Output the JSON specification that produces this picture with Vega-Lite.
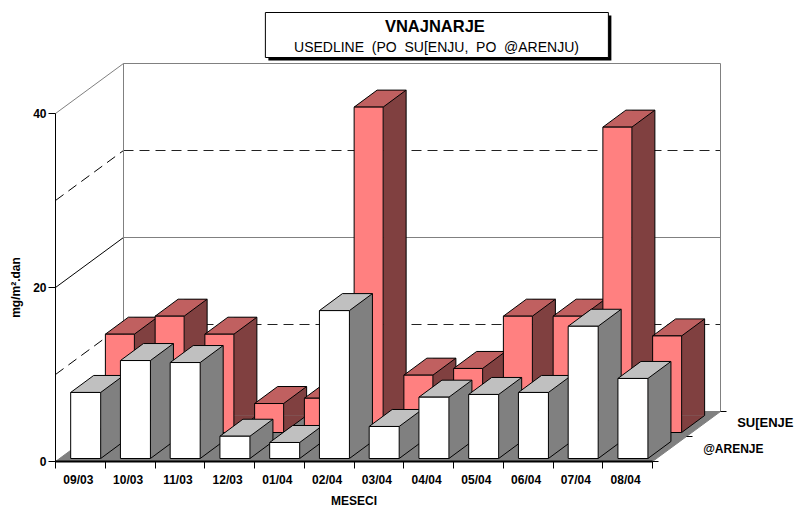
{"$schema":"https://vega.github.io/schema/vega-lite/v6.json","autosize":{"type":"none"},"width":597,"height":348,"padding":{"left":55,"top":113,"right":146,"bottom":46},"background":"white",
"config":{"view":{"stroke":null},"font":"Liberation Sans"},
"data":{"values":[
{"month":"09/03","series":"SU[ENJE","value":11.3},{"month":"10/03","series":"SU[ENJE","value":13.37},{"month":"11/03","series":"SU[ENJE","value":11.3},{"month":"12/03","series":"SU[ENJE","value":3.33},{"month":"01/04","series":"SU[ENJE","value":3.94},{"month":"02/04","series":"SU[ENJE","value":37.4},{"month":"03/04","series":"SU[ENJE","value":6.59},{"month":"04/04","series":"SU[ENJE","value":7.36},{"month":"05/04","series":"SU[ENJE","value":13.37},{"month":"06/04","series":"SU[ENJE","value":13.37},{"month":"07/04","series":"SU[ENJE","value":35.1},{"month":"08/04","series":"SU[ENJE","value":11.1},
{"month":"09/03","series":"@ARENJE","value":7.59},{"month":"10/03","series":"@ARENJE","value":11.26},{"month":"11/03","series":"@ARENJE","value":11.03},{"month":"12/03","series":"@ARENJE","value":2.56},{"month":"01/04","series":"@ARENJE","value":1.84},{"month":"02/04","series":"@ARENJE","value":17.0},{"month":"03/04","series":"@ARENJE","value":3.68},{"month":"04/04","series":"@ARENJE","value":7.05},{"month":"05/04","series":"@ARENJE","value":7.36},{"month":"06/04","series":"@ARENJE","value":7.59},{"month":"07/04","series":"@ARENJE","value":15.2},{"month":"08/04","series":"@ARENJE","value":9.2}
]},
"encoding":{
"x":{"field":"month","type":"nominal","scale":{"type":"band","domain":["09/03","10/03","11/03","12/03","01/04","02/04","03/04","04/04","05/04","06/04","07/04","08/04"],"paddingInner":0,"paddingOuter":0},"axis":{"title":"MESECI","titleFont":"Liberation Sans","titleFontSize":12,"titleFontWeight":"bold","titleColor":"#000","titlePadding":10,"labelAngle":0,"labelFont":"Liberation Sans","labelFontSize":12,"labelFontWeight":"bold","labelColor":"#000","labelOffset":-2,"labelPadding":6,"tickBand":"extent","tickSize":7,"tickColor":"#000","domainColor":"#000","domainWidth":2,"zindex":1}},
"y":{"field":"value","type":"quantitative","stack":null,"scale":{"domain":[0,40],"nice":false},"axis":{"title":"mg/m².dan","values":[0,20,40],"grid":false,"titleFont":"Liberation Sans","titleFontSize":12,"titleFontWeight":"bold","titleColor":"#000","titlePadding":10,"labelFont":"Liberation Sans","labelFontSize":12,"labelFontWeight":"bold","labelColor":"#000","labelPadding":2,"tickSize":7,"tickColor":"#000","domainColor":"#000","zindex":1}}
},
"layer":[
{"data":{"values":[{"month":"09/03","value":40},{"month":"09/03","value":20}]},"mark":{"type":"point","shape":"M0,0 L597,0","size":4,"filled":false,"opacity":1,"stroke":"#808080","strokeWidth":1,"xOffset":43.625,"yOffset":-49.5}},
{"data":{"values":[{"month":"09/03","value":30},{"month":"09/03","value":10}]},"mark":{"type":"point","shape":"M0,0 L597,0","size":4,"filled":false,"opacity":1,"stroke":"#222222","strokeWidth":1,"strokeDash":[10,6],"xOffset":43.625,"yOffset":-49.5}},
{"data":{"values":[{"month":"09/03","value":40}]},"mark":{"type":"point","shape":"M0,0 L68,-50","size":4,"filled":false,"opacity":1,"stroke":"#808080","strokeWidth":1,"xOffset":-24.375,"yOffset":0.5}},
{"data":{"values":[{"month":"09/03","value":20}]},"mark":{"type":"point","shape":"M0,0 L68,-50","size":4,"filled":false,"opacity":1,"stroke":"#000","strokeWidth":1,"xOffset":-24.375,"yOffset":0.5}},
{"data":{"values":[{"month":"09/03","value":30},{"month":"09/03","value":10}]},"mark":{"type":"point","shape":"M0,0 L68,-50","size":4,"filled":false,"opacity":1,"stroke":"#000","strokeWidth":1,"strokeDash":[10,6],"xOffset":-24.375,"yOffset":0.5}},
{"data":{"values":[{"month":"09/03","value":40}]},"mark":{"type":"rule","stroke":"#808080","strokeWidth":1,"xOffset":43.625,"yOffset":-49.5,"y2Offset":-49.5},"encoding":{"y2":{"datum":0}}},
{"data":{"values":[{"month":"08/04","value":40}]},"mark":{"type":"rule","stroke":"#808080","strokeWidth":1,"xOffset":93.375,"yOffset":-49.5,"y2Offset":-49.5},"encoding":{"y2":{"datum":0}}},
{"data":{"values":[{"month":"09/03","value":0}]},"mark":{"type":"point","shape":"M0,0 L597,0 L665,-50 L68,-50 Z","size":4,"filled":true,"opacity":1,"fill":"#808080","stroke":"#808080","strokeWidth":1,"xOffset":-24.375,"yOffset":0.5}},
{"data":{"values":[{"month":"08/04","value":0}]},"mark":{"type":"point","shape":"M0,0 L6,0 M34,-25 L40,-25 M68,-50 L74,-50","size":4,"filled":false,"opacity":1,"stroke":"#000","strokeWidth":1,"xOffset":25.375,"yOffset":0.5}},

{"transform":[{"filter":"datum.series=='SU[ENJE'"}],"mark":{"type":"bar","width":23,"fill":"#804040","xOffset":66,"x2Offset":66,"yOffset":-45.5,"y2Offset":-45.5},"encoding":{"y2":{"datum":0}}},
{"transform":[{"filter":"datum.series=='SU[ENJE'"}],"mark":{"type":"point","shape":"M0,0 L23,-17 L0,-17 Z","size":4,"filled":true,"opacity":1,"fill":"#804040","strokeWidth":0,"xOffset":54.5,"yOffset":-28.5},"encoding":{"y":{"datum":0}}},
{"transform":[{"filter":"datum.series=='SU[ENJE'"}],"mark":{"type":"point","shape":"M0,0 L23,-17","size":4,"filled":false,"opacity":1,"stroke":"#000","strokeWidth":1,"xOffset":54.5,"yOffset":-28.5},"encoding":{"y":{"datum":0}}},
{"transform":[{"filter":"datum.series=='SU[ENJE'"}],"mark":{"type":"rule","stroke":"#000","strokeWidth":1,"xOffset":77.5,"yOffset":-45.5,"y2Offset":-45.5},"encoding":{"y2":{"datum":0}}},
{"transform":[{"filter":"datum.series=='SU[ENJE'"}],"mark":{"type":"point","shape":"M0,0 L29,0 L52,-17 L23,-17 Z","size":4,"filled":true,"opacity":1,"fill":"#C06060","stroke":"#000","strokeWidth":1,"xOffset":25.5,"yOffset":-28.5}},
{"transform":[{"filter":"datum.series=='SU[ENJE'"}],"mark":{"type":"bar","width":29,"fill":"#FF8080","stroke":"#000","strokeWidth":1,"xOffset":40,"x2Offset":40,"yOffset":-28.5,"y2Offset":-28.5},"encoding":{"y2":{"datum":0}}},

{"transform":[{"filter":"datum.series=='@ARENJE'"}],"mark":{"type":"bar","width":23,"fill":"#808080","xOffset":32.3,"x2Offset":32.3,"yOffset":-19.5,"y2Offset":-19.5},"encoding":{"y2":{"datum":0}}},
{"transform":[{"filter":"datum.series=='@ARENJE'"}],"mark":{"type":"point","shape":"M0,0 L23,-17 L0,-17 Z","size":4,"filled":true,"opacity":1,"fill":"#808080","strokeWidth":0,"xOffset":20.8,"yOffset":-2.5},"encoding":{"y":{"datum":0}}},
{"transform":[{"filter":"datum.series=='@ARENJE'"}],"mark":{"type":"point","shape":"M0,0 L23,-17","size":4,"filled":false,"opacity":1,"stroke":"#000","strokeWidth":1,"xOffset":20.8,"yOffset":-2.5},"encoding":{"y":{"datum":0}}},
{"transform":[{"filter":"datum.series=='@ARENJE'"}],"mark":{"type":"rule","stroke":"#000","strokeWidth":1,"xOffset":43.8,"yOffset":-19.5,"y2Offset":-19.5},"encoding":{"y2":{"datum":0}}},
{"transform":[{"filter":"datum.series=='@ARENJE'"}],"mark":{"type":"point","shape":"M0,0 L30,0 L53,-17 L23,-17 Z","size":4,"filled":true,"opacity":1,"fill":"#C0C0C0","stroke":"#000","strokeWidth":1,"xOffset":-9.2,"yOffset":-2.5}},
{"transform":[{"filter":"datum.series=='@ARENJE'"}],"mark":{"type":"bar","width":30,"fill":"#FFFFFF","stroke":"#000","strokeWidth":1,"xOffset":5.8,"x2Offset":5.8,"yOffset":-2.5,"y2Offset":-2.5},"encoding":{"y2":{"datum":0}}},

{"data":{"values":[{"month":"08/04","value":0,"label":"SU[ENJE"}]},"mark":{"type":"text","align":"left","baseline":"middle","font":"Liberation Sans","fontSize":13,"fontWeight":"bold","fill":"#000","xOffset":110,"yOffset":-38},"encoding":{"text":{"field":"label"}}},
{"data":{"values":[{"month":"08/04","value":0,"label":"@ARENJE"}]},"mark":{"type":"text","align":"left","baseline":"middle","font":"Liberation Sans","fontSize":12,"fontWeight":"bold","fill":"#000","xOffset":76,"yOffset":-12},"encoding":{"text":{"field":"label"}}},
{"data":{"values":[{"month":"09/03","value":40}]},"mark":{"type":"point","shape":"M0,0 L343,0 L343,45 L0,45 Z","size":4,"filled":true,"opacity":1,"fill":"#000","strokeWidth":0,"xOffset":188.5,"yOffset":-97.5}},
{"data":{"values":[{"month":"09/03","value":40}]},"mark":{"type":"point","shape":"M0,0 L343,0 L343,45 L0,45 Z","size":4,"filled":true,"opacity":1,"fill":"#FFF","stroke":"#000","strokeWidth":1,"xOffset":185.5,"yOffset":-100.5}},
{"data":{"values":[{"month":"09/03","value":40,"label":"VNAJNARJE"}]},"mark":{"type":"text","align":"center","baseline":"middle","font":"Liberation Sans","fontSize":16.5,"fontWeight":"bold","fill":"#000","xOffset":355,"yOffset":-86},"encoding":{"text":{"field":"label"}}},
{"data":{"values":[{"month":"09/03","value":40,"label":"USEDLINE\u00a0\u00a0(PO\u00a0\u00a0SU[ENJU,\u00a0\u00a0PO\u00a0\u00a0@ARENJU)"}]},"mark":{"type":"text","align":"center","baseline":"middle","font":"Liberation Sans","fontSize":14,"fill":"#000","xOffset":356.6,"yOffset":-65},"encoding":{"text":{"field":"label"}}}
]}
